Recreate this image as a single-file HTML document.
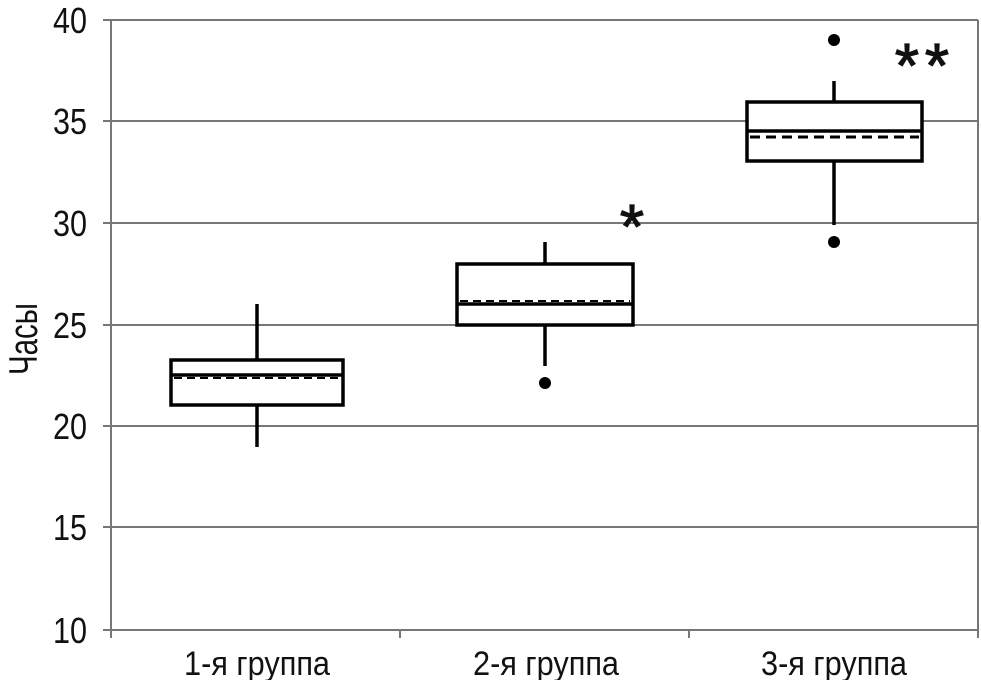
<!DOCTYPE html>
<html><head><meta charset="utf-8"><style>
body{margin:0;background:#fff}
svg{display:block}
text{font-family:"Liberation Sans Narrow","Liberation Sans",sans-serif;fill:#111}
</style></head><body>
<svg width="981" height="680" viewBox="0 0 981 680">
<g stroke="#777" stroke-width="2">
<line x1="103" y1="20" x2="978" y2="20"/>
<line x1="103" y1="121" x2="978" y2="121"/>
<line x1="103" y1="223" x2="978" y2="223"/>
<line x1="103" y1="325" x2="978" y2="325"/>
<line x1="103" y1="426" x2="978" y2="426"/>
<line x1="103" y1="527" x2="978" y2="527"/>
<line x1="103" y1="630" x2="978" y2="630"/>
<line x1="111" y1="20" x2="111" y2="638"/>
<line x1="978" y1="20" x2="978" y2="638"/>
<line x1="400" y1="630" x2="400" y2="638"/>
<line x1="689" y1="630" x2="689" y2="638"/>
</g>
<g font-size="36" text-anchor="end">
<text x="87" y="33" textLength="34" lengthAdjust="spacingAndGlyphs">40</text>
<text x="87" y="134" textLength="34" lengthAdjust="spacingAndGlyphs">35</text>
<text x="87" y="236" textLength="34" lengthAdjust="spacingAndGlyphs">30</text>
<text x="87" y="338" textLength="34" lengthAdjust="spacingAndGlyphs">25</text>
<text x="87" y="439" textLength="34" lengthAdjust="spacingAndGlyphs">20</text>
<text x="87" y="540" textLength="34" lengthAdjust="spacingAndGlyphs">15</text>
<text x="87" y="643" textLength="34" lengthAdjust="spacingAndGlyphs">10</text>
</g>
<text transform="translate(37,339) rotate(-90)" font-size="40" text-anchor="middle" textLength="72" lengthAdjust="spacingAndGlyphs">Часы</text>
<g font-size="34" text-anchor="middle">
<text x="257" y="675" textLength="146" lengthAdjust="spacingAndGlyphs">1-я группа</text>
<text x="546" y="675" textLength="146" lengthAdjust="spacingAndGlyphs">2-я группа</text>
<text x="834" y="675" textLength="146" lengthAdjust="spacingAndGlyphs">3-я группа</text>
</g>
<g stroke="#000" stroke-width="3.5" fill="none">
<line x1="257" y1="304" x2="257" y2="360"/>
<line x1="257" y1="405" x2="257" y2="447"/>
<rect x="171" y="360" width="172" height="45" fill="#fff"/>
<line x1="171" y1="375" x2="343" y2="375"/>
<line x1="174" y1="378" x2="340" y2="378" stroke-width="2" stroke-dasharray="8,5"/>

<line x1="545" y1="242" x2="545" y2="264"/>
<line x1="545" y1="325" x2="545" y2="366"/>
<rect x="457" y="264" width="176" height="61" fill="#fff"/>
<line x1="457" y1="304" x2="633" y2="304"/>
<line x1="460" y1="301" x2="630" y2="301" stroke-width="2" stroke-dasharray="8,5"/>

<line x1="834" y1="81" x2="834" y2="102"/>
<line x1="834" y1="161" x2="834" y2="225"/>
<rect x="747" y="102" width="175" height="59" fill="#fff"/>
<line x1="747" y1="131" x2="922" y2="131"/>
<line x1="750" y1="137" x2="919" y2="137" stroke-width="3" stroke-dasharray="10,6"/>
</g>
<g fill="#000">
<circle cx="545" cy="383" r="6"/>
<circle cx="834" cy="40" r="6"/>
<circle cx="834" cy="242" r="6"/>
</g>
<g font-size="62" font-family="Liberation Sans" text-anchor="middle" stroke="#111" stroke-width="1.2">
<text x="632" y="248">*</text>
<text x="907" y="87">*</text>
<text x="937" y="87">*</text>
</g>
</svg>
</body></html>
